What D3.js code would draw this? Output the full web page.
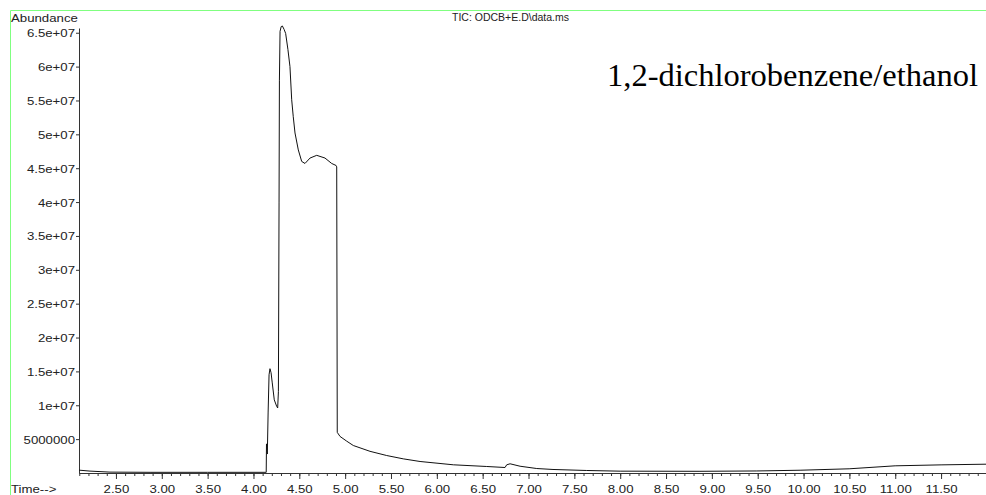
<!DOCTYPE html>
<html>
<head>
<meta charset="utf-8">
<script src="https://cdn.jsdelivr.net/npm/d3@7"></script>
<style>
  body { margin: 0; background: #fff; }
  svg { display: block; }
  text { font-family: "Liberation Sans", Arial, sans-serif; fill: #222; }
</style>
</head>
<body>
<div id="chart"></div>
<script>
// retention time (min) and abundance
const times = [2.097, 2.217, 2.435, 2.872, 3.5, 4.126, 4.139, 4.142, 4.151, 4.160,
    4.170, 4.180, 4.192, 4.205, 4.227, 4.253, 4.264, 4.272, 4.279, 4.283,
    4.290, 4.302, 4.315, 4.334, 4.351, 4.376, 4.398, 4.417, 4.434, 4.453,
    4.489, 4.526, 4.562, 4.617, 4.690, 4.780, 4.853, 4.901, 4.908, 4.914,
    4.944, 5.017, 5.089, 5.271, 5.453, 5.634, 5.817, 6.180, 6.544, 6.744,
    6.762, 6.799, 6.908, 7.090, 7.267, 7.635, 8.00, 8.87, 9.49, 9.962,
    10.497, 10.999, 11.50, 11.99];
const abundance = [0.42e6, 0.28e6, 0.13e6, 0.1e6, 0.1e6, 0.1e6, 0.1e6, 4.3e6, 2.8e6, 9.0e6,
    14.5e6, 15.4e6, 14.8e6, 13.3e6, 10.8e6, 9.85e6, 9.6e6, 12e6, 40e6, 58e6,
    65.2e6, 65.9e6, 66.0e6, 65.5e6, 64.9e6, 62.5e6, 60.0e6, 55.1e6, 52.6e6, 50.2e6,
    47.7e6, 46.0e6, 45.7e6, 46.5e6, 46.9e6, 46.5e6, 45.7e6, 45.4e6, 45.2e6, 6.0e6,
    5.4e6, 4.7e6, 4.06e6, 3.2e6, 2.58e6, 2.09e6, 1.70e6, 1.21e6, 0.96e6, 0.81e6,
    1.21e6, 1.36e6, 1.0e6, 0.66e6, 0.52e6, 0.37e6, 0.27e6, 0.25e6, 0.3e6, 0.41e6,
    0.62e6, 1.06e6, 1.2e6, 1.3e6];

const xTickValues = [2.5, 3, 3.5, 4, 4.5, 5, 5.5, 6, 6.5, 7, 7.5, 8, 8.5, 9, 9.5, 10, 10.5, 11, 11.5];
const yTickValues = [5e6, 1e7, 1.5e7, 2e7, 2.5e7, 3e7, 3.5e7, 4e7, 4.5e7, 5e7, 5.5e7, 6e7, 6.5e7];
const yTickLabels = ["5000000", "1e+07", "1.5e+07", "2e+07", "2.5e+07", "3e+07", "3.5e+07",
    "4e+07", "4.5e+07", "5e+07", "5.5e+07", "6e+07", "6.5e+07"];

const width = 986, height = 495, stretch = 1.15;

const svg = d3.select("#chart").append("svg")
    .attr("width", width)
    .attr("height", height);

const x = d3.scaleLinear().domain([2.097, 11.99]).range([79, 986]);
const y = d3.scaleLinear().domain([0, 65.7e6]).range([473, 28]);

// green frame
svg.append("path")
    .attr("d", "M10.5,495V10.5H986")
    .attr("fill", "none")
    .attr("stroke", "#80ff80");

// x axis: minor ticks every 0.1, labelled every 0.5
const minor = d3.range(21, 120).map(d => d / 10);
svg.append("g")
    .attr("transform", "translate(0,473)")
    .call(d3.axisBottom(x).tickValues(minor).tickSize(3).tickSizeOuter(0).tickFormat(""))
    .call(g => g.select(".domain").attr("stroke", "#333"))
    .call(g => g.selectAll("line").attr("stroke", "#333"));

svg.append("g")
    .attr("transform", "translate(0,473)")
    .call(d3.axisBottom(x).tickValues(xTickValues).tickSize(6).tickSizeOuter(0).tickFormat(d3.format(".2f")))
    .call(g => g.select(".domain").remove())
    .call(g => g.selectAll("line").attr("stroke", "#333"))
    .call(g => g.selectAll("text")
        .attr("font-family", null)
        .attr("font-size", "11.5px")
        .attr("fill", "#222")
        .attr("y", 0)
        .attr("dy", null)
        .attr("transform", `translate(0,20) scale(${stretch},1)`));

// y axis
svg.append("g")
    .attr("transform", "translate(79,0)")
    .call(d3.axisLeft(y).tickValues(yTickValues).tickSize(3).tickSizeOuter(0)
        .tickFormat((d, i) => yTickLabels[i]))
    .call(g => g.select(".domain").attr("stroke", "#333"))
    .call(g => g.selectAll("line").attr("stroke", "#333"))
    .call(g => g.selectAll("text")
        .attr("font-family", null)
        .attr("font-size", "11.5px")
        .attr("fill", "#222")
        .attr("x", 0)
        .attr("dy", "0.35em")
        .attr("transform", `translate(-4,0) scale(${stretch},1)`));

// trace
const points = times.map((t, i) => [t, abundance[i]]);
svg.append("path")
    .datum(points)
    .attr("fill", "none")
    .attr("stroke", "#111")
    .attr("stroke-width", 1)
    .attr("d", d3.line().x(d => x(d[0])).y(d => y(d[1])));

// labels
function label(txt, px, py, anchor) {
    svg.append("text")
        .attr("transform", `translate(${px},${py}) scale(${stretch},1)`)
        .attr("font-size", "11.5px")
        .attr("text-anchor", anchor)
        .text(txt);
}
label("Abundance", 11, 22, "start");
label("Time-->", 11, 493, "start");

svg.append("text")
    .attr("x", 452)
    .attr("y", 21)
    .attr("font-size", "10.5px")
    .text("TIC: ODCB+E.D\\data.ms");

svg.append("text")
    .attr("x", 978)
    .attr("y", 86)
    .attr("text-anchor", "end")
    .attr("font-size", "32.5px")
    .style("font-family", '"Liberation Serif", "Times New Roman", serif')
    .style("fill", "#000")
    .text("1,2-dichlorobenzene/ethanol");
</script>
</body>
</html>
